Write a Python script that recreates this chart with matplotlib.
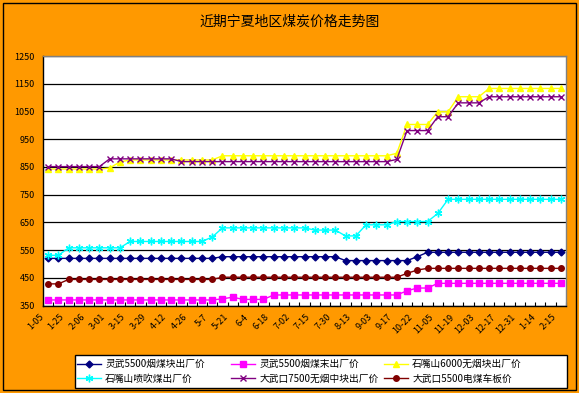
import matplotlib
matplotlib.use('Agg')
import matplotlib.pyplot as plt
from matplotlib.patches import Rectangle
from matplotlib.transforms import ScaledTranslation

plt.rcParams['font.family'] = ['Noto Sans CJK SC', 'DejaVu Sans']

title = "近期宁夏地区煤炭价格走势图"

tick_labels = ["1-05", "1-25", "2-06", "3-01", "3-15", "3-29", "4-12", "4-26", "5-7",
               "5-21", "6-4", "6-18", "7-02", "7-15", "7-30", "8-13", "9-03", "9-17",
               "10-22", "11-05", "11-19", "12-03", "12-17", "12-31", "1-14", "2-15"]

series_names = ["灵武5500烟煤块出厂价", "灵武5500烟煤末出厂价", "石嘴山6000无烟块出厂价",
                "石嘴山喷吹煤出厂价", "大武口7500无烟中块出厂价", "大武口5500电煤车板价"]

lingwu_kuai = [520]*17 + [526]*12 + [512]*7 + [526] + [542]*14
lingwu_mo = [370]*17 + [374, 380] + [372]*3 + [388]*13 + [403] + [413]*2 + [430]*13
szs_6000 = [842]*6 + [846, 868] + [875]*9 + [890]*17 + [899] + [1003]*3 + [1049]*2 + [1103]*3 + [1133]*8
szs_penchui = [531]*2 + [558]*6 + [581]*8 + [597] + [630]*9 + [622]*3 + [601]*2 + [641]*3 + [653]*4 + [682] + [733]*12
dwk_7500 = [851]*6 + [879]*7 + [869]*21 + [877] + [981]*3 + [1031]*2 + [1081]*3 + [1103]*8
dwk_5500 = [428]*2 + [444]*15 + [452]*18 + [466, 478] + [484]*14

all_series = [lingwu_kuai, lingwu_mo, szs_6000, szs_penchui, dwk_7500, dwk_5500]
colors = ['#000080', '#FF00FF', '#FFFF00', '#00FFFF', '#800080', '#800000']
markers = ['D', 's', '^', (6, 2, 0), 'x', 'o']
msizes = [3.5, 4, 5, 5.5, 4, 4]

W, H = 579, 393
fig = plt.figure(figsize=(W/100, H/100), dpi=100, facecolor='#FF9900')
ax = fig.add_axes([43/W, 1-305.5/H, 523/W, 249.5/H])
ax.set_facecolor('white')

n = len(lingwu_kuai)
x = list(range(n))
handles = []
for ys, c, m, ms, name in zip(all_series, colors, markers, msizes, series_names):
    h, = ax.plot(x, ys, color=c, marker=m, markersize=ms, lw=1.0,
                 markeredgecolor=c, markerfacecolor=c, markeredgewidth=1.0, label=name)
    handles.append(h)

ax.set_xlim(-0.5, n-0.5)
ax.set_ylim(350, 1250)
ax.set_yticks(range(350, 1251, 100))
ax.yaxis.grid(True, color='black', lw=0.9)
ax.set_axisbelow(True)
ax.tick_params(axis='y', length=0, pad=6, labelsize=6.5)

ax.set_xticks(range(0, n, 2))
ax.set_xticklabels(tick_labels, rotation=45, ha='right', rotation_mode='anchor', fontsize=6.5)
ax.set_xticks([i + 0.5 for i in range(-1, n)], minor=True)
ax.tick_params(axis='x', which='major', length=0, pad=5)
ax.tick_params(axis='x', which='minor', direction='in', length=3, width=0.8)
for lab in ax.get_xticklabels():
    lab.set_transform(lab.get_transform() + ScaledTranslation(-9/100, 0, fig.dpi_scale_trans))

for s in ['left', 'bottom']:
    ax.spines[s].set_color('black')
    ax.spines[s].set_linewidth(1.0)
for s in ['top', 'right']:
    ax.spines[s].set_color('#808080')
    ax.spines[s].set_linewidth(1.0)

fig.text(0.5, 1-22/H, title, ha='center', va='center', fontsize=10)

# legend frame
fig.patches.append(Rectangle((75/W, 1-388/H), 492/W, 33/H, transform=fig.transFigure,
                             fc='white', ec='black', lw=1, zorder=1))
col_x = [77, 231, 384]
col_items = [[0, 3], [1, 4], [2, 5]]
for cx, items in zip(col_x, col_items):
    leg = fig.legend([handles[i] for i in items], [series_names[i] for i in items],
                     loc='upper left', bbox_to_anchor=(cx/W, 1-359/H),
                     frameon=False, fontsize=7, handlelength=2.5, handletextpad=0.4,
                     borderpad=0, labelspacing=0.5, borderaxespad=0, numpoints=1)
    leg.set_zorder(5)

fig.patches.append(Rectangle((3/W, 3/H), 573/W, 387/H, transform=fig.transFigure,
                             fill=False, ec='black', lw=1))

fig.savefig('out.png', dpi=100, facecolor='#FF9900')
